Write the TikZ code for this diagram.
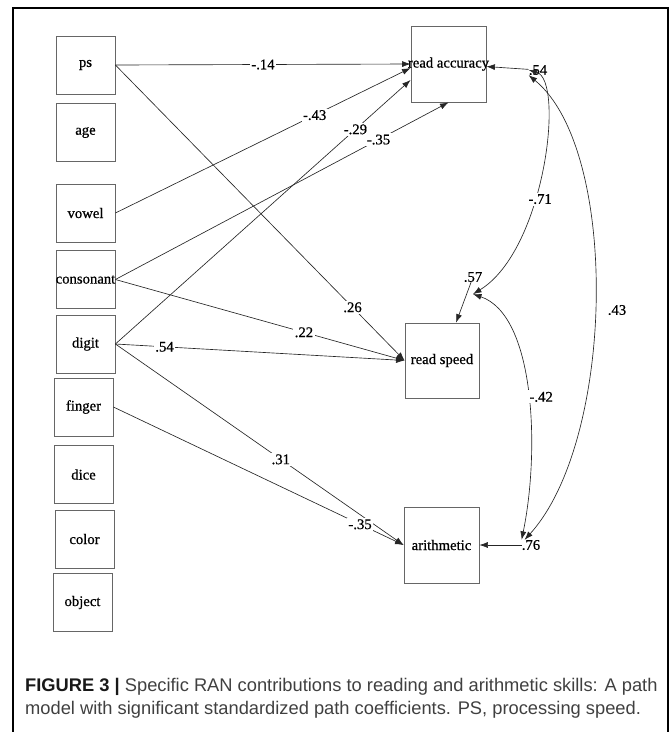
\documentclass[tikz,border=0pt]{standalone}
\usepackage{fontspec}
\setmainfont{Liberation Serif}[FakeBold=0.7]
\newfontfamily\capfont{Liberation Sans}
\usetikzlibrary{arrows.meta}

\newcommand{\varfont}{\fontsize{14.7}{16}\selectfont}
\newcommand{\wide}[1]{\makebox[0pt]{#1}}

\begin{document}
\begin{tikzpicture}[x=1pt, y=-1pt, >={Latex[length=8.5pt,width=6pt]},
  var/.style={draw=black!60, line width=0.8pt, minimum width=59pt, minimum height=58pt, inner sep=0pt, font=\varfont},
  outc/.style={var, minimum width=75pt, minimum height=76pt},
  coef/.style={fill=white, inner sep=1.5pt, font=\varfont},
  err/.style={inner sep=0pt, font=\varfont},
  link/.style={draw=black!85, line width=0.65pt}]

\useasboundingbox (0,0) rectangle (672,732);
\draw[line width=1.2pt] (13,732) -- (13,8) -- (668,8) -- (668,732);

% predictors
\node[var] (ps) at (85.5,65) {ps};
\node[var] (age) at (85.5,132.5) {age};
\node[var] (vowel) at (85.5,213) {vowel};
\node[var] (cons) at (85.5,279.5) {\wide{consonant}};
\node[var] (digit) at (85.5,344) {digit};
\node[var] (finger) at (83.5,407) {finger};
\node[var] (dice) at (83.5,474.5) {dice};
\node[var] (color) at (84.5,539) {color};
\node[var] (object) at (82.5,602.5) {object};

% outcomes
\node[outc] (racc) at (448.5,64) {\wide{read accuracy}};
\node[outc, minimum width=74pt, minimum height=75pt] (rspeed) at (442,360.5) {read speed};
\node[outc] (arith) at (441.5,545) {arithmetic};

% residuals
\node[err] (e1) at (538,70) {.54};
\node[err] (e2) at (473,277) {.57};
\node[err] (e3) at (531,545) {.76};

\draw[link, ->] (ps.east) -- node[coef, pos=0.5] (w1) {-.14} (racc.west);
\draw[link, ->] (vowel.east) -- node[coef, pos=0.675] (w2) {-.43} ([yshift=-4pt]racc.west);
\draw[link, ->] (digit.east) -- node[coef, pos=0.813] (w3) {-.29} ([yshift=-16pt]racc.west);
\draw[link, ->] (cons.east) -- node[coef, pos=0.79] (w4) {-.35} (racc.south);
\draw[link, ->] (ps.east) -- node[coef, pos=0.82] (w5) {.26} (rspeed.west);
\draw[link, ->] (cons.east) -- node[coef, pos=0.652] (w6) {.22} (rspeed.west);
\draw[link, ->] (digit.east) -- node[coef, pos=0.17] (w7) {.54} (rspeed.west);
\draw[link, ->] (digit.east) -- node[coef, pos=0.574] (w8) {.31} (arith.west);
\draw[link, ->] (finger.east) -- node[coef, pos=0.85] (w9) {-.35} (arith.west);

\draw[link, ->] (e1) -- (racc);
\draw[link, ->] (e2) -- (rspeed);
\draw[link, ->] (e3) -- (arith);

% correlated residuals
\draw[link, <->] (e1.west) .. controls (565,80) and (545,250) .. node[coef, pos=0.6, xshift=6pt] (w10) {-.71} ([yshift=-12pt]e2.south);
\draw[link, <->] ([yshift=-12pt]e2.south) .. controls (535,315) and (540,450) .. node[coef, pos=0.52, xshift=13pt] (w11) {-.42} (e3.north west);
\draw[link, <->] (e1.south west) .. controls (620,150) and (615,440) .. ([xshift=3pt]e3.north west);
\node[err] (w12) at (617,310) {.43};

% caption
\node[anchor=base west, inner sep=0pt, font=\capfont\fontsize{18.3}{22}\selectfont, text=black!75] (cap1) at (25,691)
  {\textcolor{black!90}{\textbf{FIGURE 3 |}} Specific RAN contributions to reading and arithmetic skills: A path};
\node[anchor=base west, inner sep=0pt, font=\capfont\fontsize{18.3}{22}\selectfont, text=black!75] (cap2) at (25,714)
  {model with significant standardized path coefficients. PS, processing speed.};
\end{tikzpicture}
\end{document}
